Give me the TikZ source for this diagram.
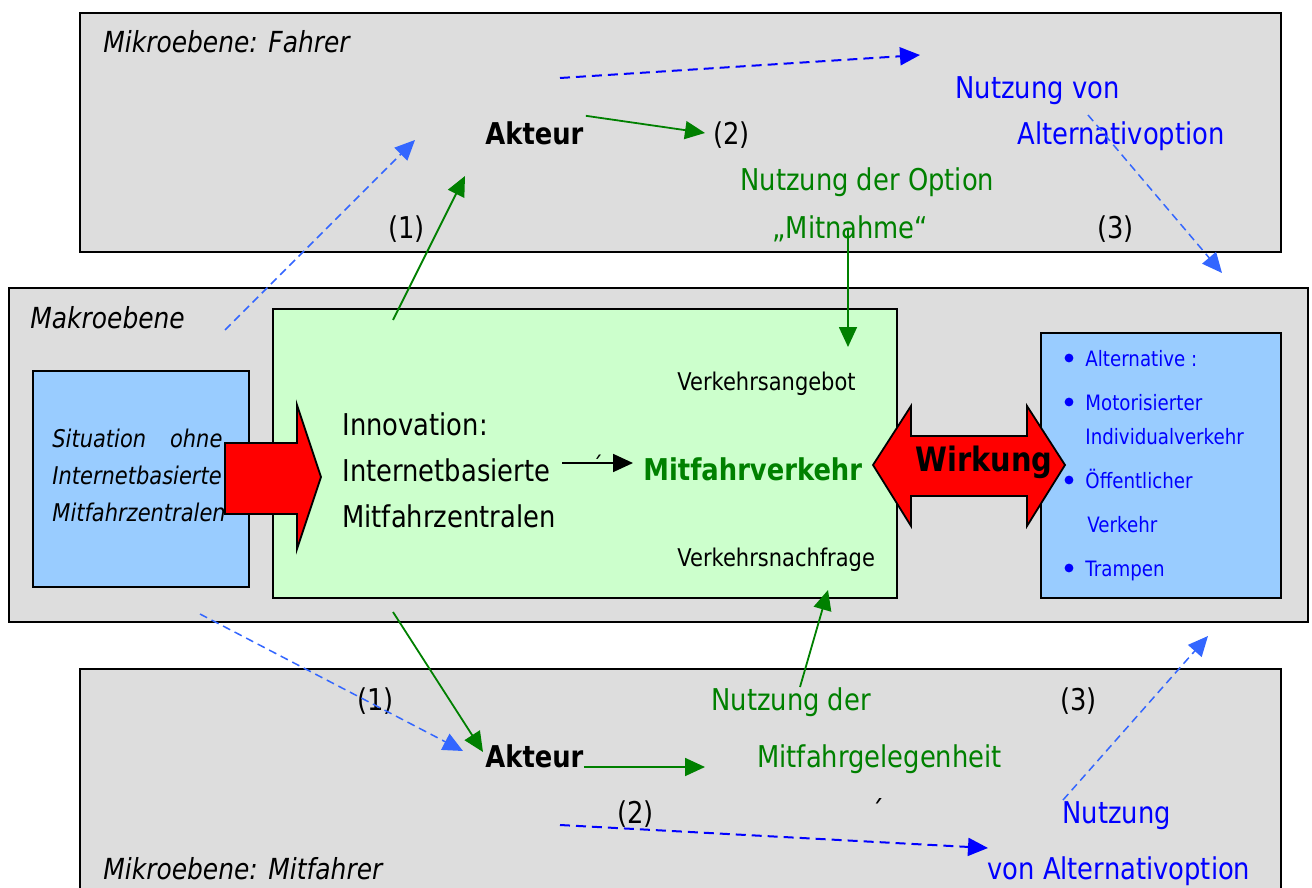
\documentclass[tikz,border=0pt]{standalone}
\usepackage{fontspec}
\setmainfont{DejaVu Sans}[FakeStretch=0.86]
\usetikzlibrary{arrows.meta}
\definecolor{levelGray}{HTML}{DDDDDD}
\definecolor{sitBlue}{HTML}{99CCFF}
\definecolor{innoGreen}{HTML}{CCFFCC}
\definecolor{optGreen}{HTML}{008000}
\definecolor{altBlue}{HTML}{0000FF}
\definecolor{linkBlue}{HTML}{3366FF}
\tikzset{
  levelbox/.style={draw, line width=1pt, inner sep=0pt, outer sep=0pt, anchor=north west},
  txt/.style={inner sep=0pt, anchor=base west, font=\fontsize{15}{18}\selectfont},
  smalltxt/.style={inner sep=0pt, anchor=base west, font=\fontsize{12.2}{14}\selectfont},
  listtxt/.style={inner sep=0pt, anchor=base west, text=altBlue, font=\fontsize{10.6}{13}\selectfont},
  greenarrow/.style={-{Triangle[length=10pt,width=9pt]}, draw=optGreen, line width=0.9pt},
  bluearrow/.style={-{Triangle[length=10pt,width=9pt]}, draw=altBlue, line width=1pt, dash pattern=on 5pt off 3pt},
  lightarrow/.style={-{Triangle[length=10pt,width=9pt]}, draw=linkBlue, line width=0.75pt, dash pattern=on 4pt off 2.5pt},
  bigarrow/.style={draw, fill=red, line width=0.9pt, line join=miter}
}
\begin{document}
\begin{tikzpicture}[x=0.5pt,y=-0.5pt]
\useasboundingbox (0,0) rectangle (1312,888);
\clip (0,0) rectangle (1312,888);
\fill[white] (0,0) rectangle (1312,888);

\node[levelbox, fill=levelGray, minimum width=600.5pt, minimum height=119.5pt] (fahrerBox) at (80,13) {};
\node[levelbox, fill=levelGray, minimum width=649.5pt, minimum height=167pt] (makroBox) at (9,288) {};
\node[levelbox, fill=levelGray, minimum width=600.5pt, minimum height=125pt] (mitfahrerBox) at (80,669) {};
\node[levelbox, fill=sitBlue, minimum width=108pt, minimum height=108pt] (situationBox) at (33,371) {};
\node[levelbox, fill=innoGreen, minimum width=312pt, minimum height=144.5pt] (innoBox) at (273,309) {};
\node[levelbox, fill=sitBlue, minimum width=120pt, minimum height=132.5pt] (altBox) at (1041,333) {};

\node[txt, font=\fontsize{14.5}{18}\itshape] (fahrerTitle) at (103,53) {Mikroebene: Fahrer};
\node[txt, font=\fontsize{14.5}{18}\itshape] (makroTitle) at (30,328) {Makroebene};
\node[txt, font=\fontsize{14.5}{18}\itshape] (mitfahrerTitle) at (103,879) {Mikroebene: Mitfahrer};

\node[txt, text=altBlue] (altF1) at (955,99) {Nutzung von};
\node[txt, text=altBlue] (altF2) at (1017,145) {Alternativoption};
\node[txt, font=\fontsize{15}{18}\bfseries] (akteurF) at (485,145) {Akteur};
\node[txt] (numF2) at (713,145) {(2)};
\node[txt, text=optGreen] (optF1) at (740,191) {Nutzung der Option};
\node[txt, text=optGreen] (optF2) at (772,238) {„Mitnahme“};
\node[txt] (numF1) at (388,238) {(1)};
\node[txt] (numF3) at (1097,238) {(3)};

\node[inner sep=0pt, anchor=base west, align=left, font=\fontsize{12.2}{18.5}\itshape] (situation) at (52,521)
  {\makebox[85pt][s]{Situation\hfill ohne}\\Internetbasierte\\Mitfahrzentralen};
\node[txt, align=left, font=\fontsize{15}{23}\selectfont] (innovation) at (342,527)
  {Innovation:\\Internetbasierte\\Mitfahrzentralen};
\node[txt, text=optGreen, font=\fontsize{15}{18}\bfseries] (mfv) at (643,480) {Mitfahrverkehr};
\node[smalltxt] (angebot) at (677,390) {Verkehrsangebot};
\node[smalltxt] (nachfrage) at (677,566) {Verkehrsnachfrage};
\node[smalltxt] (tickA) at (592,474) {´};

\node[listtxt] (alt1) at (1085,366) {Alternative :};
\node[listtxt] (alt2) at (1085,410) {Motorisierter};
\node[listtxt] (alt2b) at (1085,444) {Individualverkehr};
\node[listtxt] (alt3) at (1085,488) {Öffentlicher};
\node[listtxt] (alt3b) at (1087,532) {Verkehr};
\node[listtxt] (alt4) at (1085,576) {Trampen};
\foreach \y in {358,402,480,568}
  \fill[altBlue] (1069,\y) circle (2.2pt);

\node[txt] (numM1) at (357,710) {(1)};
\node[txt, text=optGreen] (optM1) at (711,710) {Nutzung der};
\node[txt] (numM3) at (1060,710) {(3)};
\node[txt, font=\fontsize{15}{18}\bfseries] (akteurM) at (485,767) {Akteur};
\node[txt, text=optGreen] (optM2) at (757,767) {Mitfahrgelegenheit};
\node[txt] (numM2) at (617,823) {(2)};
\node[txt] (tickB) at (871,822) {´};
\node[txt, text=altBlue] (altM1) at (1062,823) {Nutzung};
\node[txt, text=altBlue] (altM2) at (987,879) {von Alternativoption};

\draw[bigarrow] (225,443) -- (297,443) -- (297,405) -- (321,477) -- (297,549) -- (297,514) -- (225,514) -- cycle;
\draw[bigarrow] (873,465) -- (911,406) -- (911,436) -- (1027,436) -- (1027,406) -- (1065,465)
  -- (1027,526) -- (1027,496) -- (911,496) -- (911,526) -- cycle;
\node[inner sep=0pt, anchor=base, font=\fontsize{16.8}{20}\bfseries] (wirkung) at (984,471) {Wirkung};

\coordinate (makroUp) at (225,330);
\coordinate (fahrerIn) at (415,140);
\coordinate (innoUp) at (393,320);
\coordinate (akteurFIn) at (465,176);
\coordinate (optFIn) at (705,133);
\coordinate (altFStart) at (560,78);
\coordinate (altFEnd) at (920,55);
\coordinate (altFDown) at (1088,115);
\coordinate (makroRight) at (1222,273);
\coordinate (mitnahmeOut) at (848,228);
\coordinate (angebotIn) at (848,347);
\coordinate (makroDown) at (200,614);
\coordinate (mitfahrerIn) at (463,751);
\coordinate (innoDown) at (393,612);
\coordinate (akteurMIn) at (483,752);
\coordinate (optMIn) at (705,767);
\coordinate (gelegenheitOut) at (800,687);
\coordinate (nachfrageIn) at (828,590);
\coordinate (altMStart) at (560,825);
\coordinate (altMEnd) at (988,848);
\coordinate (altMUp) at (1063,800);
\coordinate (makroRightLow) at (1208,636);
\coordinate (innoOut) at (562,463);
\coordinate (mfvIn) at (633,463);

\draw[lightarrow] (makroUp) -- (fahrerIn);
\draw[greenarrow] (innoUp) -- (akteurFIn);
\draw[greenarrow] (akteurF.north east) ++(2,-6) -- (optFIn);
\draw[bluearrow] (altFStart) -- (altFEnd);
\draw[lightarrow] (altFDown) -- (makroRight);
\draw[greenarrow] (mitnahmeOut) -- (angebotIn);
\draw[lightarrow] (makroDown) -- (mitfahrerIn);
\draw[greenarrow] (innoDown) -- (akteurMIn);
\draw[greenarrow] (akteurM.base east) -- (optMIn);
\draw[greenarrow] (gelegenheitOut) -- (nachfrageIn);
\draw[bluearrow] (altMStart) -- (altMEnd);
\draw[lightarrow] (altMUp) -- (makroRightLow);
\draw[-{Triangle[length=10pt,width=9pt]}, line width=0.9pt] (innoOut) -- (mfvIn);
\end{tikzpicture}
\end{document}
